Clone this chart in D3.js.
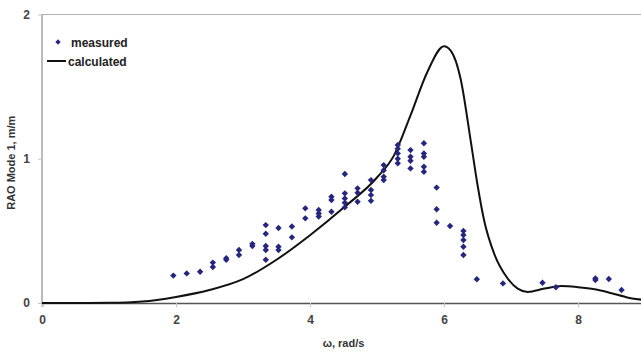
<!DOCTYPE html>
<html>
<head>
<meta charset="utf-8">
<script src="https://cdn.jsdelivr.net/npm/d3@7"></script>
<style>
  html, body { margin: 0; padding: 0; background: #fff; }
  svg { display: block; font-family: "Liberation Sans", Arial, sans-serif; }
</style>
</head>
<body>
<svg id="chart" width="641" height="353"></svg>
<script>
// ─── data ─────────────────────────────────────────────────────────────────────
const xTicks = [0, 2, 4, 6, 8];
const yTicks = [0, 1, 2];

// calculated RAO curve
const calcW = [0, 0.5, 1.0, 1.5, 2.0, 2.5, 3.0, 3.5, 4.0, 4.5, 5.0, 5.25, 5.5, 5.75, 6.0, 6.1, 6.25, 6.4, 6.5, 6.6, 6.75, 6.95, 7.1, 7.25, 7.5, 7.75, 8.0, 8.25, 8.5, 8.75, 9.0];
const calcR = [0, 0, 0.001, 0.01, 0.042, 0.09, 0.165, 0.3, 0.47, 0.66, 0.87, 1.02, 1.3, 1.6, 1.78, 1.75, 1.55, 1.12, 0.82, 0.57, 0.34, 0.17, 0.1, 0.077, 0.1, 0.118, 0.11, 0.095, 0.068, 0.037, 0.02];

// measured points
const measW = [
  1.96, 2.16, 2.36, 2.55, 2.55, 2.75, 2.75, 2.94, 2.94, 3.14, 3.14,
  3.34, 3.34, 3.34, 3.34, 3.34, 3.53, 3.53, 3.53, 3.73, 3.73,
  3.93, 3.93, 4.13, 4.13, 4.13, 4.32, 4.32, 4.32,
  4.52, 4.52, 4.52, 4.52, 4.52, 4.71, 4.71, 4.71,
  4.91, 4.91, 4.91, 4.91, 5.10, 5.10, 5.10, 5.10,
  5.31, 5.31, 5.31, 5.31, 5.31, 5.50, 5.50, 5.50, 5.50,
  5.70, 5.70, 5.70, 5.70, 5.70, 5.89, 5.89, 5.89, 6.09,
  6.29, 6.29, 6.29, 6.29, 6.29, 6.49, 6.88, 7.47, 7.67, 8.26, 8.26, 8.46, 8.65
];
const measR = [
  0.19, 0.205, 0.217, 0.28, 0.25, 0.31, 0.30, 0.367, 0.333, 0.41, 0.395,
  0.54, 0.48, 0.395, 0.367, 0.30, 0.52, 0.39, 0.367, 0.53, 0.455,
  0.656, 0.587, 0.645, 0.62, 0.60, 0.737, 0.714, 0.633,
  0.894, 0.76, 0.725, 0.695, 0.663, 0.795, 0.764, 0.702,
  0.852, 0.783, 0.748, 0.708, 0.956, 0.92, 0.875, 0.852,
  1.095, 1.07, 1.037, 1.0, 0.968, 1.06, 1.014, 0.986, 0.933,
  1.107, 1.037, 1.014, 0.945, 0.91, 0.80, 0.65, 0.556, 0.534,
  0.50, 0.471, 0.437, 0.39, 0.333, 0.165, 0.136, 0.14, 0.109, 0.171, 0.159, 0.166, 0.09
];

// ─── chart ────────────────────────────────────────────────────────────────────
const svg = d3.select("#chart");
const W = 641, H = 353;
const margin = { left: 42, top: 14.5, right: -4, bottom: 50 };

const x = d3.scaleLinear().domain([0, 9]).range([margin.left, W - margin.right]);
const y = d3.scaleLinear().domain([0, 2]).range([H - margin.bottom, margin.top]);

const markColor = "#26267f";
const axisGrey = "#8c8c8c";

svg.append("defs").append("clipPath").attr("id", "clip")
  .append("rect").attr("x", 0).attr("y", 0).attr("width", W).attr("height", H);

// plot frame (top + left light grey)
svg.append("line").attr("x1", x(0)).attr("x2", W).attr("y1", y(2)).attr("y2", y(2))
  .attr("stroke", "#b0b0b0").attr("stroke-width", 1.2);
svg.append("line").attr("x1", x(0)).attr("x2", x(0)).attr("y1", y(2)).attr("y2", y(0))
  .attr("stroke", axisGrey).attr("stroke-width", 1.2);

// axes
const xAxis = svg.append("g").attr("transform", `translate(0,${y(0)})`)
  .call(d3.axisBottom(x).tickValues(xTicks).tickSize(4).tickPadding(8).tickFormat(d3.format("d")));
const yAxis = svg.append("g").attr("transform", `translate(${x(0)},0)`)
  .call(d3.axisLeft(y).tickValues(yTicks).tickSize(4).tickPadding(8).tickFormat(d3.format("d")));

xAxis.select(".domain").attr("stroke", "#555").attr("stroke-width", 1.5);
yAxis.select(".domain").remove();
[xAxis, yAxis].forEach((g) => {
  g.selectAll(".tick line").attr("stroke", "#c4c4c4");
  g.selectAll(".tick text").attr("fill", "#444").attr("font-size", 12)
    .attr("font-weight", "bold").attr("font-family", "Liberation Sans, Arial, sans-serif");
});

// calculated curve
const curve = calcW.map((w, i) => ({ w, r: calcR[i] }));
const line = d3.line().x((d) => x(d.w)).y((d) => y(d.r)).curve(d3.curveMonotoneX);
svg.append("path").datum(curve).attr("clip-path", "url(#clip)")
  .attr("fill", "none").attr("stroke", "#111").attr("stroke-width", 2).attr("d", line);

// measured diamonds
const diamond = d3.symbol().type(d3.symbolDiamond2).size(26);
svg.append("g").selectAll("path").data(measW.map((w, i) => ({ w, r: measR[i] })))
  .join("path")
  .attr("transform", (d) => `translate(${x(d.w)},${y(d.r)})`)
  .attr("d", diamond).attr("fill", markColor);

// axis titles
svg.append("text").attr("x", (x(0) + x(9)) / 2).attr("y", 347)
  .attr("text-anchor", "middle").attr("font-size", 11).attr("font-weight", "bold")
  .attr("fill", "#333").text("ω, rad/s");
svg.append("text").attr("transform", `translate(15,${(y(0) + y(2)) / 2 + 4}) rotate(-90)`)
  .attr("text-anchor", "middle").attr("font-size", 11).attr("font-weight", "bold")
  .attr("fill", "#333").text("RAO Mode 1, m/m");

// legend
const lg = svg.append("g");
lg.append("path").attr("transform", "translate(58,42)").attr("d", d3.symbol().type(d3.symbolDiamond2).size(18)).attr("fill", markColor);
lg.append("text").attr("x", 71).attr("y", 46.5).attr("font-size", 12).attr("font-weight", "bold")
  .attr("fill", "#222").text("measured");
lg.append("line").attr("x1", 47).attr("x2", 66).attr("y1", 61).attr("y2", 61)
  .attr("stroke", "#111").attr("stroke-width", 2);
lg.append("text").attr("x", 68).attr("y", 65.5).attr("font-size", 12).attr("font-weight", "bold")
  .attr("fill", "#222").text("calculated");
</script>
</body>
</html>
